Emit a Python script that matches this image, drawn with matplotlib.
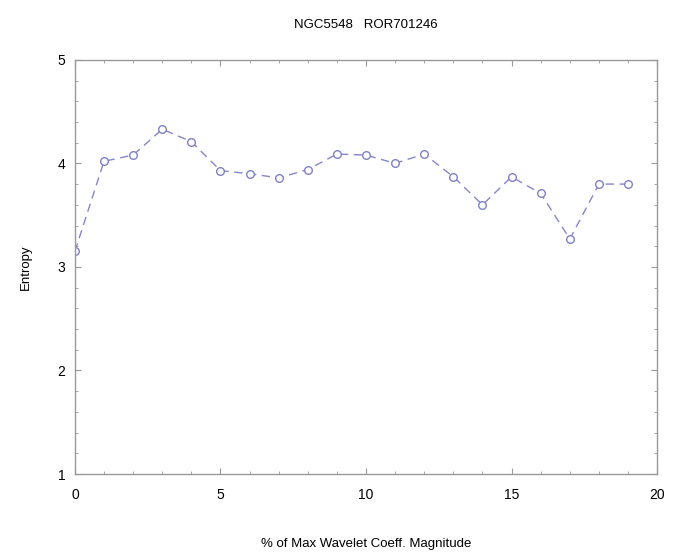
import matplotlib
matplotlib.use("Agg")
import matplotlib.pyplot as plt
from matplotlib.ticker import MultipleLocator

plt.rcParams['font.family'] = ['Liberation Sans', 'DejaVu Sans']

# entropy vs threshold (% of max wavelet coefficient magnitude)
pct = [0, 1, 2, 3, 4, 5, 6, 7, 8, 9, 10, 11, 12, 13, 14, 15, 16, 17, 18, 19]
entropy = [3.15, 4.02, 4.08, 4.33, 4.21, 3.93, 3.90, 3.86, 3.94, 4.09,
           4.08, 4.00, 4.09, 3.87, 3.60, 3.87, 3.71, 3.27, 3.80, 3.80]

fig = plt.figure(figsize=(6.81, 5.59), dpi=100)
ax = fig.add_axes([0.110, 0.152, 0.855, 0.741])

ax.plot(pct, entropy, linestyle=(0, (6, 4)), color='#8585cc', linewidth=1.0,
        marker='o', markersize=5.5, markerfacecolor='white', markeredgecolor='#8080c8',
        markeredgewidth=1.0)

ax.set_xlim(0, 20)
ax.set_ylim(1, 5)
ax.xaxis.set_major_locator(MultipleLocator(5))
ax.xaxis.set_minor_locator(MultipleLocator(1))
ax.yaxis.set_major_locator(MultipleLocator(1))
ax.yaxis.set_minor_locator(MultipleLocator(0.2))
ax.tick_params(which='both', direction='in', top=True, right=True,
               color='#999999', labelsize=10)
ax.tick_params(which='major', length=4)
ax.tick_params(which='minor', length=2)
ax.tick_params(axis='x', pad=10)
ax.tick_params(axis='y', pad=7)
for s in ax.spines.values():
    s.set_color('#999999')
    s.set_linewidth(1.0)

ax.set_title('NGC5548   ROR701246', fontsize=9.5, pad=23)
ax.set_xlabel('% of Max Wavelet Coeff. Magnitude', fontsize=9.5, labelpad=26)
ax.set_ylabel('Entropy', fontsize=9.5, labelpad=18)

fig.savefig('out.png', dpi=100)
